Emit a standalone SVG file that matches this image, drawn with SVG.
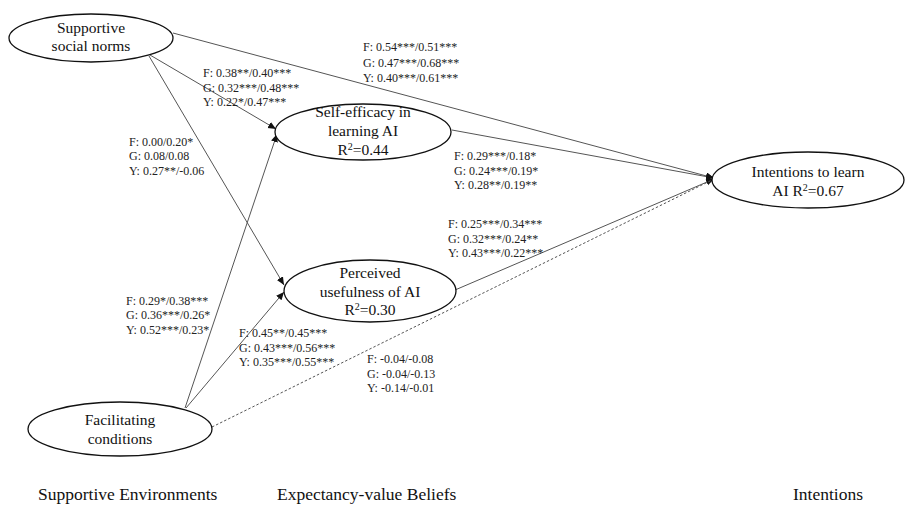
<svg xmlns="http://www.w3.org/2000/svg" width="907" height="507" viewBox="0 0 907 507">
<style>
.node ellipse{fill:#fff;stroke:#111;stroke-width:1.3}
.nt{font-family:"Liberation Serif",serif;font-size:15.5px;fill:#111;text-anchor:middle}
.lb{font-family:"Liberation Serif",serif;font-size:12px;fill:#222}
.ft{font-family:"Liberation Serif",serif;font-size:17.5px;fill:#111}
.c{stroke:#555;stroke-width:1;fill:none}
.d{stroke-dasharray:2.5 2}
</style>
<defs>
<marker id="ah" markerUnits="userSpaceOnUse" markerWidth="9" markerHeight="8" refX="8" refY="3.5" orient="auto">
<path d="M0,0 L8,3.5 L0,7 Z" fill="#111"/>
</marker>
</defs>
<rect width="907" height="507" fill="#fff"/>
<g id="connectors">
<line class="c" x1="173" y1="33" x2="714" y2="178" marker-end="url(#ah)"/>
<line class="c" x1="150" y1="55" x2="276" y2="129" marker-end="url(#ah)"/>
<line class="c" x1="149" y1="56" x2="284" y2="285" marker-end="url(#ah)"/>
<line class="c" x1="452" y1="130" x2="714" y2="178" marker-end="url(#ah)"/>
<line class="c" x1="455" y1="290" x2="714" y2="179" marker-end="url(#ah)"/>
<line class="c" x1="185" y1="408" x2="277" y2="134" marker-end="url(#ah)"/>
<line class="c" x1="186" y1="408" x2="284" y2="292" marker-end="url(#ah)"/>
<line class="c d" x1="212" y1="427" x2="712" y2="180"/>
</g>
<g id="n-ssn" class="node">
<ellipse cx="91" cy="38" rx="82" ry="24"/>
<text class="nt" x="91" y="33">Supportive</text>
<text class="nt" x="91" y="51">social norms</text>
</g>
<g id="n-se" class="node">
<ellipse cx="363" cy="132" rx="88" ry="28"/>
<text class="nt" x="363" y="117">Self-efficacy  in</text>
<text class="nt" x="363" y="136">learning AI</text>
<text class="nt" x="363" y="155">R<tspan font-size="10" dy="-5">2</tspan><tspan dy="5">=0.44</tspan></text>
</g>
<g id="n-pu" class="node">
<ellipse cx="370" cy="291" rx="86" ry="31"/>
<text class="nt" x="370" y="278">Perceived</text>
<text class="nt" x="370" y="297">usefulness  of AI</text>
<text class="nt" x="370" y="315">R<tspan font-size="10" dy="-5">2</tspan><tspan dy="5">=0.30</tspan></text>
</g>
<g id="n-int" class="node">
<ellipse cx="808" cy="180" rx="96" ry="28"/>
<text class="nt" x="808" y="177">Intentions to learn</text>
<text class="nt" x="808" y="196">AI R<tspan font-size="10" dy="-5">2</tspan><tspan dy="5">=0.67</tspan></text>
</g>
<g id="n-fc" class="node">
<ellipse cx="120" cy="429" rx="92" ry="27"/>
<text class="nt" x="120" y="425">Facilitating</text>
<text class="nt" x="120" y="444">conditions</text>
</g>
<g id="labels">
<text class="lb" x="363" y="51">F: 0.54***/0.51***</text>
<text class="lb" x="363" y="67">G: 0.47***/0.68***</text>
<text class="lb" x="363" y="82">Y: 0.40***/0.61***</text>
<text class="lb" x="203" y="77">F: 0.38**/0.40***</text>
<text class="lb" x="203" y="92">G: 0.32***/0.48***</text>
<text class="lb" x="203" y="106">Y: 0.22*/0.47***</text>
<text class="lb" x="129" y="146">F: 0.00/0.20*</text>
<text class="lb" x="129" y="160">G: 0.08/0.08</text>
<text class="lb" x="129" y="175">Y: 0.27**/-0.06</text>
<text class="lb" x="454" y="160">F: 0.29***/0.18*</text>
<text class="lb" x="454" y="175">G: 0.24***/0.19*</text>
<text class="lb" x="454" y="189">Y: 0.28**/0.19**</text>
<text class="lb" x="448" y="228">F: 0.25***/0.34***</text>
<text class="lb" x="448" y="243">G: 0.32***/0.24**</text>
<text class="lb" x="448" y="257">Y: 0.43***/0.22***</text>
<text class="lb" x="126" y="305">F: 0.29*/0.38***</text>
<text class="lb" x="126" y="319">G: 0.36***/0.26*</text>
<text class="lb" x="126" y="334">Y: 0.52***/0.23*</text>
<text class="lb" x="239" y="337">F: 0.45**/0.45***</text>
<text class="lb" x="239" y="352">G: 0.43***/0.56***</text>
<text class="lb" x="239" y="366">Y: 0.35***/0.55***</text>
<text class="lb" x="367" y="363">F: -0.04/-0.08</text>
<text class="lb" x="367" y="378">G: -0.04/-0.13</text>
<text class="lb" x="367" y="392">Y: -0.14/-0.01</text>
</g>
<g id="footer">
<text class="ft" x="38" y="500">Supportive Environments</text>
<text class="ft" x="277" y="500">Expectancy-value Beliefs</text>
<text class="ft" x="793" y="500">Intentions</text>
</g>
</svg>
